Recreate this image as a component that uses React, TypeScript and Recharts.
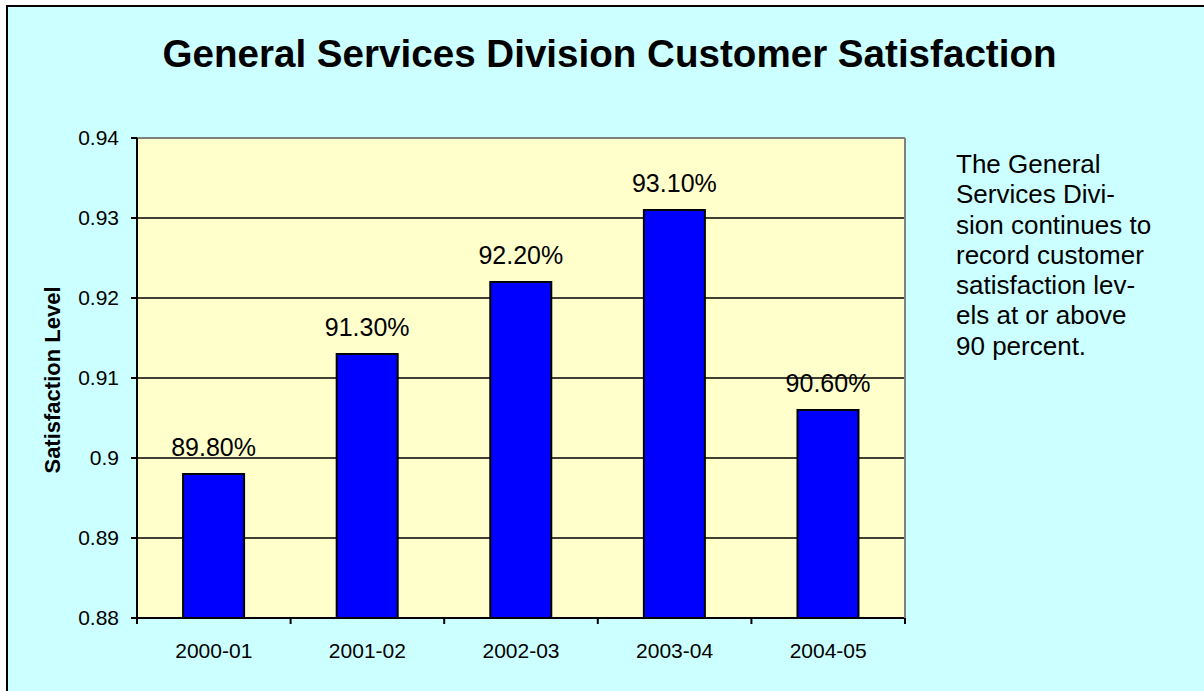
import React from 'react';
import { BarChart, Bar, XAxis, YAxis, CartesianGrid, LabelList, ReferenceLine } from 'recharts';

const years = ['2000-01', '2001-02', '2002-03', '2003-04', '2004-05'];
const satisfaction = [0.898, 0.913, 0.922, 0.931, 0.906];
const yTicks = [0.88, 0.89, 0.9, 0.91, 0.92, 0.93, 0.94];
const noteLines = [
  'The General',
  'Services Divi-',
  'sion continues to',
  'record customer',
  'satisfaction lev-',
  'els at or above',
  '90 percent.',
];

const data = years.map((year, i) => ({ year, value: satisfaction[i] }));

const FONT = '"Liberation Sans", Arial, sans-serif';
const TICK_SIZE = 6;
const TICK_MARGIN = 19;

// category labels, with the tick marks drawn on the band edges instead of the centres
const YearTick = (props: any) => {
  const { x, y, payload, index, width } = props;
  const half = payload.offset || width / (2 * years.length);
  const axisY = y - TICK_SIZE - TICK_MARGIN;
  return (
    <g>
      <line x1={x - half} x2={x - half} y1={axisY} y2={axisY + TICK_SIZE} stroke="#000" strokeWidth={2} />
      {index === years.length - 1 && (
        <line x1={x + half} x2={x + half} y1={axisY} y2={axisY + TICK_SIZE} stroke="#000" strokeWidth={2} />
      )}
      <text x={x} y={y} dy="0.71em" textAnchor="middle" fontSize={21} fontFamily={FONT} fill="#000">
        {payload.value}
      </text>
    </g>
  );
};

const App: React.FC = () => {
  return (
    <div
      style={{
        position: 'absolute',
        left: 6,
        top: 5,
        width: 1198,
        height: 686,
        boxSizing: 'border-box',
        borderLeft: '2px solid #000',
        borderTop: '2px solid #000',
        background: '#CCFFFF',
        overflow: 'hidden',
        fontFamily: FONT,
        color: '#000',
      }}
    >
      <div
        style={{
          position: 'absolute',
          left: 601.5,
          top: 27.5,
          transform: 'translateX(-50%)',
          whiteSpace: 'nowrap',
          fontSize: 38.6,
          lineHeight: '38px',
          fontWeight: 'bold',
        }}
      >
        General Services Division Customer Satisfaction
      </div>

      <div
        style={{
          position: 'absolute',
          left: 45,
          top: 373,
          transform: 'translate(-50%, -50%) rotate(-90deg)',
          whiteSpace: 'nowrap',
          fontSize: 22,
          fontWeight: 'bold',
        }}
      >
        Satisfaction Level
      </div>

      <div
        style={{
          position: 'absolute',
          left: 948,
          top: 142,
          fontSize: 26,
          lineHeight: '30.3px',
          whiteSpace: 'nowrap',
        }}
      >
        {noteLines.map((line) => (
          <div key={line}>{line}</div>
        ))}
      </div>

      <div style={{ position: 'absolute', left: 0, top: 0 }}>
        <BarChart
          width={1196}
          height={684}
          data={data}
          margin={{ top: 131, right: 298, bottom: 0, left: 0 }}
          barCategoryGap="30%"
        >
          <CartesianGrid vertical={false} stroke="#000" strokeWidth={1.5} fill="#FFFFCC" />
          <XAxis
            dataKey="year"
            height={73}
            tickLine={false}
            tickSize={TICK_SIZE}
            tickMargin={TICK_MARGIN}
            axisLine={{ stroke: '#000', strokeWidth: 2 }}
            tick={<YearTick />}
            interval={0}
          />
          <YAxis
            width={129}
            domain={[0.88, 0.94]}
            ticks={yTicks}
            allowDataOverflow
            tickSize={TICK_SIZE}
            tickMargin={12}
            tickLine={{ stroke: '#000', strokeWidth: 2 }}
            axisLine={{ stroke: '#000', strokeWidth: 2 }}
            tick={{ fontSize: 21, fill: '#000', fontFamily: FONT }}
          />
          <YAxis
            yAxisId="r"
            orientation="right"
            width={1}
            domain={[0.88, 0.94]}
            ticks={[0.88, 0.94]}
            tick={false}
            tickLine={false}
            axisLine={{ stroke: '#808080', strokeWidth: 2 }}
          />
          <Bar dataKey="value" fill="#0000FF" stroke="#000" strokeWidth={2} isAnimationActive={false}>
            <LabelList
              dataKey="value"
              position="top"
              offset={18}
              formatter={(v: any) => `${(Number(v) * 100).toFixed(2)}%`}
              style={{ fontSize: 25, fill: '#000', fontFamily: FONT }}
            />
          </Bar>
          <ReferenceLine y={0.94} stroke="#808080" strokeWidth={2} />
        </BarChart>
      </div>
    </div>
  );
};

export default App;
